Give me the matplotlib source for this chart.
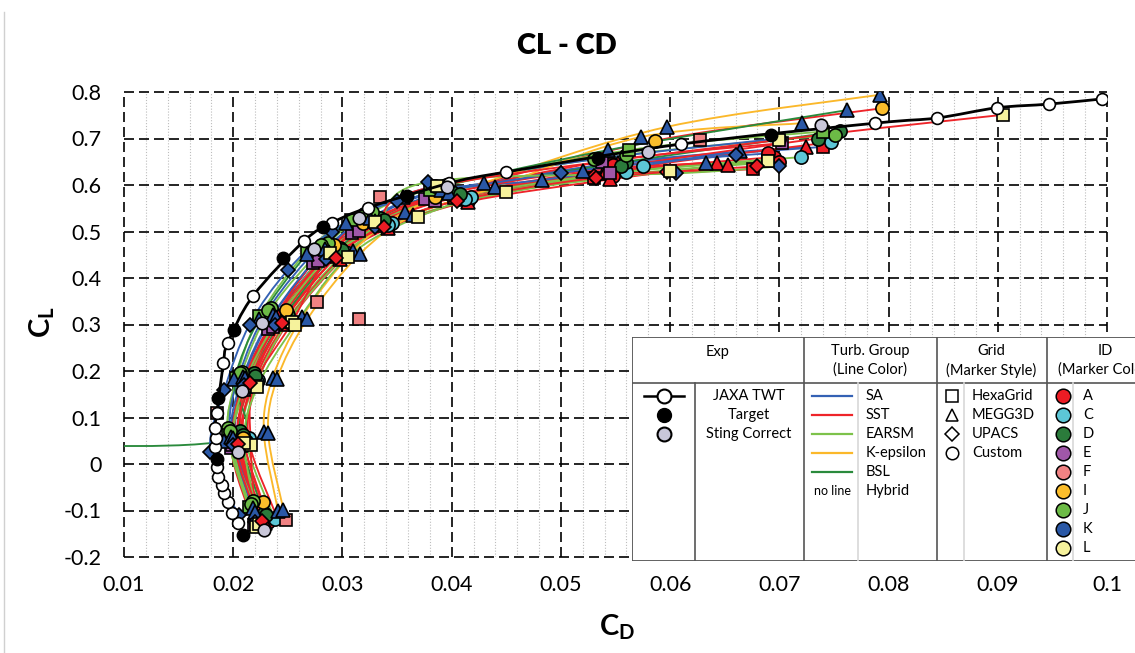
import numpy as np
import matplotlib.pyplot as plt
from matplotlib.path import Path
from matplotlib.patches import PathPatch, Rectangle
from matplotlib.lines import Line2D

plt.rcParams['font.family'] = ['Lato', 'DejaVu Sans']
plt.rcParams['mathtext.fontset'] = 'custom'
plt.rcParams['mathtext.rm'] = 'Lato'
plt.rcParams['mathtext.bf'] = 'Lato:bold'

W, H = 1135, 653

# --- experiment ---
twt_cd = [0.0204, 0.0199, 0.0195, 0.0192, 0.0190, 0.0186, 0.0185, 0.0183, 0.0184, 0.0183,
          0.0185, 0.0191, 0.0195, 0.0218, 0.0265, 0.0290, 0.0323, 0.0398, 0.0450, 0.0610,
          0.0788, 0.0844, 0.0899, 0.0947, 0.0995]
twt_cl = [-0.127, -0.105, -0.082, -0.062, -0.045, -0.028, -0.006, 0.037, 0.056, 0.077,
          0.110, 0.217, 0.260, 0.361, 0.480, 0.518, 0.551, 0.604, 0.628, 0.688,
          0.733, 0.744, 0.766, 0.774, 0.785]
target_cd = [0.0209, 0.0185, 0.0186, 0.0201, 0.0246, 0.0282, 0.0359, 0.0534, 0.0692]
target_cl = [-0.153, 0.011, 0.142, 0.288, 0.443, 0.510, 0.576, 0.658, 0.707]
sting_cd = [0.0228, 0.0204, 0.0208, 0.0226, 0.0274, 0.0315, 0.0396, 0.0580, 0.0738]
sting_cl = [-0.142, 0.026, 0.157, 0.303, 0.462, 0.529, 0.595, 0.671, 0.729]

# --- CFD cases: participant, grid, turbulence model ---
case_id = ['A', 'A', 'A', 'A', 'A', 'A', 'A', 'A', 'A', 'C', 'C', 'D', 'D', 'E', 'E',
           'F', 'I', 'J', 'J', 'J', 'K', 'K', 'K', 'K', 'K', 'K', 'K', 'L', 'L', 'A']
case_grid = ['Custom', 'Custom', 'HexaGrid', 'HexaGrid', 'MEGG3D', 'MEGG3D', 'MEGG3D', 'UPACS',
             'Custom', 'Custom', 'Custom', 'Custom', 'Custom', 'HexaGrid', 'HexaGrid',
             'HexaGrid', 'Custom', 'Custom', 'HexaGrid', 'Custom', 'MEGG3D', 'MEGG3D', 'MEGG3D',
             'MEGG3D', 'MEGG3D', 'UPACS', 'UPACS', 'HexaGrid', 'HexaGrid', 'UPACS']
case_model = ['SST', 'EARSM', 'SST', 'SA', 'SST', 'SST', 'SA', 'SST', 'SA', 'SST', 'EARSM',
              'BSL', 'SST', 'SST', 'EARSM', 'Hybrid', 'SST', 'EARSM', 'EARSM', 'SA',
              'K-epsilon', 'K-epsilon', 'BSL', 'SA', 'SST', 'SA', 'EARSM', 'SST', 'EARSM', 'SST']
case_cd = [
    [0.0228, 0.0205, 0.0215, 0.0243, 0.0292, 0.0335, 0.0405, 0.0542, 0.0695],
    [0.0232, 0.0208, 0.0219, 0.0248, 0.0298, 0.0342, 0.0415, 0.0548, 0.0700],
    [0.0226, 0.0204, 0.0214, 0.0242, 0.0291, 0.0334, 0.0402, 0.0530, 0.0676],
    [0.0224, 0.0201, 0.0211, 0.0239, 0.0287, 0.0329, 0.0395, 0.0545, 0.0740],
    [0.0227, 0.0205, 0.0216, 0.0245, 0.0295, 0.0338, 0.0410, 0.0540, 0.0643],
    [0.0229, 0.0207, 0.0218, 0.0248, 0.0298, 0.0342, 0.0415, 0.0545, 0.0653],
    [0.0223, 0.0202, 0.0212, 0.0240, 0.0288, 0.0330, 0.0398, 0.0552, 0.0724],
    [0.0223, 0.0201, 0.0212, 0.0240, 0.0289, 0.0331, 0.0398, 0.0530, 0.0597],
    [0.0222, 0.0200, 0.0210, 0.0237, 0.0285, 0.0327, 0.0392, 0.0548, 0.0690],
    [0.0240, 0.0214, 0.0223, 0.0252, 0.0305, 0.0345, 0.0418, 0.0575, 0.0747],
    [0.0238, 0.0212, 0.0222, 0.0250, 0.0303, 0.0342, 0.0412, 0.0560, 0.0720],
    [0.0228, 0.0206, 0.0219, 0.0249, 0.0298, 0.0334, 0.0400, 0.0560, 0.0756],
    [0.0230, 0.0209, 0.0220, 0.0250, 0.0300, 0.0338, 0.0408, 0.0555, 0.0735],
    [0.0219, 0.0198, 0.0210, 0.0232, 0.0273, 0.0309, 0.0376, 0.0538, 0.0702],
    [0.0221, 0.0199, 0.0212, 0.0236, 0.0278, 0.0315, 0.0385, 0.0545, 0.0690],
    [0.0248, 0.0185, 0.0277, 0.0315, 0.0334, 0.0627],
    [0.0227, 0.0209, 0.0211, 0.0248, 0.0292, 0.0319, 0.0385, 0.0586, 0.0794],
    [0.0218, 0.0195, 0.0208, 0.0235, 0.0287, 0.0327, 0.0395, 0.0560, 0.0751],
    [0.0214, 0.0195, 0.0203, 0.0224, 0.0268, 0.0308, 0.0380, 0.0562, 0.0740],
    [0.0216, 0.0197, 0.0206, 0.0232, 0.0280, 0.0320, 0.0385, 0.0530, 0.0700],
    [0.0241, 0.0228, 0.0236, 0.0263, 0.0310, 0.0357, 0.0430, 0.0597, 0.0792],
    [0.0246, 0.0232, 0.0240, 0.0268, 0.0316, 0.0365, 0.0440, 0.0573, 0.0721],
    [-0.0050, 0.0192, 0.0201, 0.0224, 0.0268, 0.0303, 0.0355, 0.0543, 0.0762],
    [0.0218, 0.0198, 0.0209, 0.0236, 0.0284, 0.0325, 0.0390, 0.0483, 0.0664],
    [0.0220, 0.0200, 0.0211, 0.0239, 0.0288, 0.0330, 0.0398, 0.0520, 0.0633],
    [0.0205, 0.0179, 0.0192, 0.0215, 0.0250, 0.0290, 0.0350, 0.0500, 0.0660],
    [0.0220, 0.0200, 0.0210, 0.0238, 0.0285, 0.0330, 0.0378, 0.0605, 0.0700],
    [0.0221, 0.0216, 0.0219, 0.0254, 0.0289, 0.0330, 0.0387, 0.0700, 0.0905],
    [0.0224, 0.0210, 0.0222, 0.0257, 0.0305, 0.0369, 0.0450, 0.0600, 0.0690],
    [0.0226, 0.0204, 0.0215, 0.0245, 0.0294, 0.0338, 0.0405, 0.0532, 0.0680],
]
case_cl = [
    [-0.118, 0.048, 0.178, 0.312, 0.452, 0.518, 0.575, 0.628, 0.660],
    [-0.125, 0.042, 0.172, 0.305, 0.445, 0.510, 0.566, 0.620, 0.650],
    [-0.122, 0.046, 0.176, 0.309, 0.449, 0.515, 0.572, 0.615, 0.634],
    [-0.115, 0.052, 0.183, 0.318, 0.458, 0.525, 0.585, 0.645, 0.682],
    [-0.120, 0.045, 0.175, 0.308, 0.447, 0.513, 0.570, 0.625, 0.647],
    [-0.126, 0.041, 0.170, 0.302, 0.441, 0.507, 0.564, 0.612, 0.644],
    [-0.113, 0.054, 0.185, 0.320, 0.460, 0.527, 0.586, 0.648, 0.682],
    [-0.117, 0.050, 0.181, 0.314, 0.455, 0.520, 0.578, 0.620, 0.628],
    [-0.113, 0.055, 0.186, 0.321, 0.462, 0.528, 0.588, 0.642, 0.668],
    [-0.114, 0.055, 0.180, 0.310, 0.453, 0.518, 0.574, 0.640, 0.692],
    [-0.118, 0.050, 0.176, 0.306, 0.450, 0.514, 0.570, 0.628, 0.660],
    [-0.105, 0.070, 0.195, 0.325, 0.465, 0.530, 0.585, 0.650, 0.716],
    [-0.110, 0.062, 0.190, 0.320, 0.460, 0.525, 0.580, 0.640, 0.700],
    [-0.132, 0.035, 0.160, 0.290, 0.432, 0.497, 0.570, 0.650, 0.690],
    [-0.128, 0.040, 0.165, 0.295, 0.437, 0.502, 0.565, 0.625, 0.652],
    [-0.120, 0.110, 0.348, 0.312, 0.574, 0.697],
    [-0.082, 0.056, 0.176, 0.331, 0.470, 0.518, 0.575, 0.695, 0.765],
    [-0.080, 0.077, 0.198, 0.335, 0.475, 0.542, 0.600, 0.665, 0.708],
    [-0.092, 0.062, 0.185, 0.318, 0.458, 0.525, 0.590, 0.675, 0.715],
    [-0.085, 0.072, 0.195, 0.332, 0.470, 0.538, 0.598, 0.655, 0.700],
    [-0.100, 0.069, 0.185, 0.316, 0.458, 0.542, 0.605, 0.725, 0.794],
    [-0.098, 0.066, 0.182, 0.312, 0.452, 0.535, 0.595, 0.703, 0.733],
    [0.045, 0.050, 0.183, 0.312, 0.452, 0.518, 0.575, 0.675, 0.761],
    [-0.095, 0.058, 0.188, 0.320, 0.462, 0.530, 0.590, 0.611, 0.673],
    [-0.104, 0.056, 0.186, 0.316, 0.456, 0.522, 0.582, 0.630, 0.647],
    [-0.110, 0.026, 0.160, 0.300, 0.417, 0.500, 0.565, 0.626, 0.665],
    [-0.125, 0.040, 0.170, 0.300, 0.440, 0.510, 0.606, 0.625, 0.640],
    [-0.135, 0.040, 0.168, 0.305, 0.454, 0.520, 0.598, 0.697, 0.751],
    [-0.128, 0.045, 0.165, 0.300, 0.445, 0.531, 0.585, 0.630, 0.652],
    [-0.122, 0.044, 0.174, 0.304, 0.444, 0.510, 0.566, 0.615, 0.640],
]

id_names = ['A', 'C', 'D', 'E', 'F', 'I', 'J', 'K', 'L']
id_colors = ['#ec1c24', '#5cc6d6', '#2b7b3b', '#a057a8', '#f08283', '#fbbd2b', '#6cbb46', '#2a58a6', '#f6f29c']
grid_names = ['HexaGrid', 'MEGG3D', 'UPACS', 'Custom']
grid_markers = ['s', '^', 'D', 'o']
grid_sizes = [9, 10, 7, 9.5]
model_names = ['SA', 'SST', 'EARSM', 'K-epsilon', 'BSL', 'Hybrid']
model_colors = ['#3461b4', '#ee2429', '#7dc24a', '#fbb82a', '#2a8a3c', None]

x_ticks = [0.01, 0.02, 0.03, 0.04, 0.05, 0.06, 0.07, 0.08, 0.09, 0.1]
x_labels = ['0.01', '0.02', '0.03', '0.04', '0.05', '0.06', '0.07', '0.08', '0.09', '0.1']
y_ticks = [-0.2, -0.1, 0.0, 0.1, 0.2, 0.3, 0.4, 0.5, 0.6, 0.7, 0.8]
y_labels = ['-0.2', '-0.1', '0', '0.1', '0.2', '0.3', '0.4', '0.5', '0.6', '0.7', '0.8']


def smooth_path(x, y):
    # Catmull-Rom style Bezier through the points (spreadsheet "smoothed line")
    p = np.column_stack([x, y]).astype(float)
    n = len(p)
    verts = [p[0]]
    codes = [Path.MOVETO]
    for i in range(n - 1):
        a = p[i - 1] if i > 0 else p[i]
        d = p[i + 2] if i + 2 < n else p[i + 1]
        verts += [p[i] + (p[i + 1] - a) / 6, p[i + 1] - (d - p[i]) / 6, p[i + 1]]
        codes += [Path.CURVE4] * 3
    return Path(verts, codes)


fig = plt.figure(figsize=(W / 100, H / 100), dpi=100)
ax = fig.add_axes([124 / W, 1 - 557 / H, (1107 - 124) / W, (557 - 92) / H])
ax.set_xlim(0.01, 0.1)
ax.set_ylim(-0.2, 0.8)
for s in ax.spines.values():
    s.set_visible(False)
ax.set_xticks(x_ticks, x_labels)
ax.set_yticks(y_ticks, y_labels)
ax.set_xticks(np.arange(0.012, 0.1, 0.002), minor=True)
ax.tick_params(which='both', length=0)
ax.tick_params(axis='x', labelsize=15.5, pad=13)
ax.tick_params(axis='y', labelsize=15.5, pad=16)
ax.set_axisbelow(True)
ax.grid(which='minor', axis='x', color='#bdbdbd', lw=0.8, linestyle=(0, (1, 1.6)))
ax.grid(which='major', color='black', lw=1.2, linestyle=(0, (6, 3)))
for gl in ax.get_xgridlines() + ax.get_ygridlines():
    gl.set_clip_on(False)

# CFD lines
for cid, g, m, cd, cl in zip(case_id, case_grid, case_model, case_cd, case_cl):
    lc = model_colors[model_names.index(m)]
    if lc is None:
        continue
    ax.add_patch(PathPatch(smooth_path(cd, cl), fill=False, edgecolor=lc, lw=1.35, zorder=2))

# CFD markers
for cid, g, m, cd, cl in zip(case_id, case_grid, case_model, case_cd, case_cl):
    gi = grid_names.index(g)
    ax.plot(cd, cl, ls='none', marker=grid_markers[gi], ms=grid_sizes[gi],
            mfc=id_colors[id_names.index(cid)], mec='black', mew=1.2, zorder=3)

# experiment
ax.add_patch(PathPatch(smooth_path(twt_cd, twt_cl), fill=False, edgecolor='black', lw=2.0, zorder=4))
ax.plot(twt_cd, twt_cl, ls='none', marker='o', ms=8.5, mfc='white', mec='black', mew=1.2, zorder=5)
ax.plot(target_cd, target_cl, ls='none', marker='o', ms=9, mfc='black', mec='black', zorder=5)
ax.plot(sting_cd, sting_cl, ls='none', marker='o', ms=9, mfc='#c9c7d9', mec='black', mew=1.2, zorder=5)

fig.text(567 / W, 1 - 46 / H, 'CL - CD', ha='center', va='center', fontsize=21, fontweight='heavy')
fig.text(617 / W, 1 - 627 / H, r'$\mathbf{C_D}$', ha='center', va='center', fontsize=21)
fig.text(42 / W, 1 - 322 / H, r'$\mathbf{C_L}$', ha='center', va='center', fontsize=21, rotation=90)

# left border of the chart area
fig.add_artist(Line2D([4 / W, 4 / W], [0, 1 - 12 / H], color='#d0d0d0', lw=1))

# key table drawn in pixel coordinates
tab = fig.add_axes([632 / W, 1 - 561 / H, (1160 - 632) / W, (561 - 337) / H])
tab.set_xlim(632, 1160)
tab.set_ylim(561, 337)
tab.axis('off')
tab.add_patch(Rectangle((632, 337), 528, 224, facecolor='white', edgecolor='#555555', lw=1.3))
dark = dict(color='#555555', lw=1.2)
light = dict(color='#d8d8d8', lw=1.2)
tab.plot([632, 1160], [383, 383], **dark)
for xv in [804, 937, 1047]:
    tab.plot([xv, xv], [337, 561], **dark)
tab.plot([695, 695], [383, 561], **dark)
for xv in [858, 964, 1073]:
    tab.plot([xv, xv], [383, 561], **light)

fs = 10.5
tab.text(718, 352, 'Exp', ha='center', va='center', fontsize=fs)
tab.text(870, 351, 'Turb. Group', ha='center', va='center', fontsize=fs)
tab.text(870, 370, '(Line Color)', ha='center', va='center', fontsize=fs)
tab.text(991, 351, 'Grid', ha='center', va='center', fontsize=fs)
tab.text(991, 370, '(Marker Style)', ha='center', va='center', fontsize=fs)
tab.text(1105, 351, 'ID', ha='center', va='center', fontsize=fs)
tab.text(1105, 370, '(Marker Color)', ha='center', va='center', fontsize=fs)

row = 19
y0 = 396
tab.plot([644, 684], [y0, y0], color='black', lw=1.8)
tab.plot([664], [y0], marker='o', ms=10, mfc='white', mec='black', mew=1.5)
tab.plot([664], [y0 + row], marker='o', ms=10, mfc='black', mec='black')
tab.plot([664], [y0 + 2 * row], marker='o', ms=10, mfc='#c9c7d9', mec='black', mew=1.5)
for k, t in enumerate(['JAXA TWT', 'Target', 'Sting Correct']):
    tab.text(749, y0 + k * row, t, ha='center', va='center', fontsize=fs)

for k, (mn, mc) in enumerate(zip(model_names, model_colors)):
    yy = y0 + k * row
    if mc is None:
        tab.text(832, yy, 'no line', ha='center', va='center', fontsize=9)
    else:
        tab.plot([812, 852], [yy, yy], color=mc, lw=1.6)
    tab.text(866, yy, mn, ha='left', va='center', fontsize=fs)

for k, (gn, gm) in enumerate(zip(grid_names, grid_markers)):
    yy = y0 + k * row
    tab.plot([952], [yy], marker=gm, ms=[8, 9, 7, 9][k], mfc='white', mec='black', mew=1.1)
    tab.text(972, yy, gn, ha='left', va='center', fontsize=fs)

for k, (iname, icol) in enumerate(zip(id_names, id_colors)):
    yy = y0 + k * row
    tab.plot([1063], [yy], marker='o', ms=10.5, mfc=icol, mec='black', mew=1.1)
    tab.text(1083, yy, iname, ha='left', va='center', fontsize=fs)

fig.savefig('out.png', dpi=100)
